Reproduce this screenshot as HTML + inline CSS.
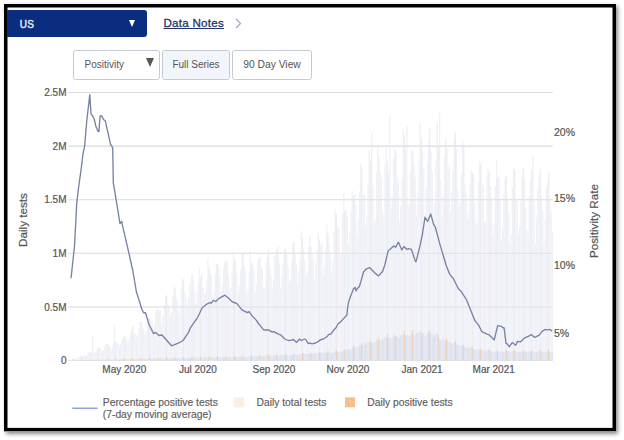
<!DOCTYPE html>
<html><head><meta charset="utf-8">
<style>
html,body{margin:0;padding:0;background:#fff;width:624px;height:440px;overflow:hidden;position:relative;font-family:"Liberation Sans",sans-serif;}
.abs{position:absolute;}
#frame{position:absolute;left:4px;top:4px;width:612px;height:427.5px;box-sizing:border-box;box-shadow:1.5px 2px 4px rgba(0,0,0,0.45);}
#sel{position:absolute;left:7px;top:10px;width:139.5px;height:27px;background:#0b2d80;border-radius:0 3px 3px 0;}
#sel .t{position:absolute;left:12.8px;top:8.6px;font-size:10px;font-weight:normal;-webkit-text-stroke:0.5px #d8e4ff;color:#d8e4ff;line-height:12px;letter-spacing:0.25px}
#sel .tri{position:absolute;left:121.5px;top:10px;width:0;height:0;border-left:3.3px solid transparent;border-right:3.3px solid transparent;border-top:7px solid #fff;}
#dn{position:absolute;left:163.5px;top:16.3px;font-size:11.6px;font-weight:normal;-webkit-text-stroke:0.3px #243669;letter-spacing:0.25px;color:#243669;line-height:13px;text-decoration:underline;text-underline-offset:0.6px;text-decoration-thickness:1px;}
.btn{position:absolute;top:50px;height:30px;box-sizing:border-box;border:1px solid #c6cad3;border-radius:2.5px;font-size:10px;color:#555;line-height:28px;}
.r{right:557.5px;text-align:right;}
.c{transform:translateX(-50%);}
.lab{position:absolute;font-size:10px;color:#555;-webkit-text-stroke:0.2px #555;line-height:12px;white-space:nowrap;}
.leg{position:absolute;font-size:10.3px;color:#5c5c5c;-webkit-text-stroke:0.15px #5c5c5c;line-height:12.2px;white-space:nowrap;}
</style></head><body>
<svg class="abs" style="left:0;top:0" width="624" height="440" viewBox="0 0 624 440">
<g stroke="#dadada" stroke-width="1.1">
<line x1="68.2" y1="92.45" x2="552.7" y2="92.45"/>
<line x1="68.2" y1="146.1" x2="552.7" y2="146.1"/>
<line x1="68.2" y1="199.7" x2="552.7" y2="199.7"/>
<line x1="68.2" y1="253.3" x2="552.7" y2="253.3"/>
<line x1="68.2" y1="307.0" x2="552.7" y2="307.0"/>
<line x1="68.2" y1="360.5" x2="552.7" y2="360.5" stroke="#e4e4e4"/>
</g>
<g fill="#e4e8f4" opacity="0.58"><rect x="69.00" y="360.2" width="1.25" height="0.4"/><rect x="70.21" y="359.7" width="1.25" height="0.9"/><rect x="71.43" y="359.2" width="1.25" height="1.4"/><rect x="72.64" y="358.9" width="1.25" height="1.7"/><rect x="73.85" y="358.7" width="1.25" height="1.9"/><rect x="75.06" y="358.5" width="1.25" height="2.1"/><rect x="76.28" y="358.6" width="1.25" height="2.0"/><rect x="77.49" y="358.2" width="1.25" height="2.4"/><rect x="78.70" y="357.0" width="1.25" height="3.6"/><rect x="79.92" y="356.1" width="1.25" height="4.5"/><rect x="81.13" y="355.5" width="1.25" height="5.1"/><rect x="82.34" y="355.3" width="1.25" height="5.3"/><rect x="83.56" y="355.8" width="1.25" height="4.8"/><rect x="84.77" y="356.3" width="1.25" height="4.3"/><rect x="85.98" y="355.6" width="1.25" height="5.0"/><rect x="87.19" y="353.5" width="1.25" height="7.1"/><rect x="88.41" y="352.0" width="1.25" height="8.6"/><rect x="89.62" y="352.4" width="1.25" height="8.2"/><rect x="90.83" y="351.7" width="1.25" height="8.9"/><rect x="92.05" y="336.0" width="1.25" height="24.6"/><rect x="93.26" y="353.5" width="1.25" height="7.1"/><rect x="94.47" y="352.1" width="1.25" height="8.5"/><rect x="95.69" y="350.5" width="1.25" height="10.1"/><rect x="96.90" y="348.1" width="1.25" height="12.5"/><rect x="98.11" y="347.8" width="1.25" height="12.8"/><rect x="99.33" y="347.7" width="1.25" height="12.9"/><rect x="100.54" y="349.3" width="1.25" height="11.3"/><rect x="101.75" y="351.5" width="1.25" height="9.1"/><rect x="102.96" y="350.5" width="1.25" height="10.1"/><rect x="104.18" y="346.5" width="1.25" height="14.1"/><rect x="105.39" y="343.8" width="1.25" height="16.8"/><rect x="106.60" y="344.3" width="1.25" height="16.3"/><rect x="107.82" y="345.1" width="1.25" height="15.5"/><rect x="109.03" y="345.6" width="1.25" height="15.0"/><rect x="110.24" y="348.7" width="1.25" height="11.9"/><rect x="111.46" y="347.9" width="1.25" height="12.7"/><rect x="112.67" y="343.3" width="1.25" height="17.3"/><rect x="113.88" y="326.0" width="1.25" height="34.6"/><rect x="115.09" y="341.2" width="1.25" height="19.4"/><rect x="116.31" y="342.8" width="1.25" height="17.8"/><rect x="117.52" y="343.5" width="1.25" height="17.1"/><rect x="118.73" y="346.7" width="1.25" height="13.9"/><rect x="119.95" y="344.8" width="1.25" height="15.8"/><rect x="121.16" y="340.1" width="1.25" height="20.5"/><rect x="122.37" y="337.7" width="1.25" height="22.9"/><rect x="123.59" y="336.5" width="1.25" height="24.1"/><rect x="124.80" y="336.6" width="1.25" height="24.0"/><rect x="126.01" y="339.5" width="1.25" height="21.1"/><rect x="127.22" y="342.8" width="1.25" height="17.8"/><rect x="128.44" y="338.8" width="1.25" height="21.8"/><rect x="129.65" y="335.8" width="1.25" height="24.8"/><rect x="130.86" y="331.3" width="1.25" height="29.3"/><rect x="132.08" y="326.0" width="1.25" height="34.6"/><rect x="133.29" y="333.4" width="1.25" height="27.2"/><rect x="134.50" y="333.7" width="1.25" height="26.9"/><rect x="135.72" y="336.5" width="1.25" height="24.1"/><rect x="136.93" y="335.1" width="1.25" height="25.5"/><rect x="138.14" y="327.9" width="1.25" height="32.7"/><rect x="139.35" y="321.3" width="1.25" height="39.3"/><rect x="140.57" y="322.0" width="1.25" height="38.6"/><rect x="141.78" y="325.7" width="1.25" height="34.9"/><rect x="142.99" y="329.3" width="1.25" height="31.3"/><rect x="144.21" y="334.9" width="1.25" height="25.7"/><rect x="145.42" y="331.1" width="1.25" height="29.5"/><rect x="146.63" y="322.8" width="1.25" height="37.8"/><rect x="147.84" y="318.4" width="1.25" height="42.2"/><rect x="149.06" y="318.3" width="1.25" height="42.3"/><rect x="150.27" y="320.3" width="1.25" height="40.3"/><rect x="151.48" y="319.6" width="1.25" height="41.0"/><rect x="152.70" y="328.4" width="1.25" height="32.2"/><rect x="153.91" y="324.0" width="1.25" height="36.6"/><rect x="155.12" y="311.6" width="1.25" height="49.0"/><rect x="156.34" y="306.4" width="1.25" height="54.2"/><rect x="157.55" y="310.1" width="1.25" height="50.5"/><rect x="158.76" y="310.3" width="1.25" height="50.3"/><rect x="159.98" y="310.6" width="1.25" height="50.0"/><rect x="161.19" y="323.7" width="1.25" height="36.9"/><rect x="162.40" y="316.5" width="1.25" height="44.1"/><rect x="163.61" y="305.5" width="1.25" height="55.1"/><rect x="164.83" y="296.7" width="1.25" height="63.9"/><rect x="166.04" y="295.2" width="1.25" height="65.4"/><rect x="167.25" y="302.9" width="1.25" height="57.7"/><rect x="168.47" y="307.7" width="1.25" height="52.9"/><rect x="169.68" y="315.1" width="1.25" height="45.5"/><rect x="170.89" y="311.7" width="1.25" height="48.9"/><rect x="172.11" y="296.0" width="1.25" height="64.6"/><rect x="173.32" y="285.8" width="1.25" height="74.8"/><rect x="174.53" y="288.2" width="1.25" height="72.4"/><rect x="175.74" y="297.1" width="1.25" height="63.5"/><rect x="176.96" y="300.9" width="1.25" height="59.7"/><rect x="178.17" y="314.2" width="1.25" height="46.4"/><rect x="179.38" y="307.6" width="1.25" height="53.0"/><rect x="180.60" y="288.7" width="1.25" height="71.9"/><rect x="181.81" y="278.1" width="1.25" height="82.5"/><rect x="183.02" y="280.3" width="1.25" height="80.3"/><rect x="184.24" y="291.5" width="1.25" height="69.1"/><rect x="185.45" y="297.1" width="1.25" height="63.5"/><rect x="186.66" y="305.8" width="1.25" height="54.8"/><rect x="187.87" y="298.4" width="1.25" height="62.2"/><rect x="189.09" y="285.6" width="1.25" height="75.0"/><rect x="190.30" y="280.9" width="1.25" height="79.7"/><rect x="191.51" y="274.2" width="1.25" height="86.4"/><rect x="192.73" y="280.4" width="1.25" height="80.2"/><rect x="193.94" y="292.3" width="1.25" height="68.3"/><rect x="195.15" y="303.9" width="1.25" height="56.7"/><rect x="196.37" y="292.6" width="1.25" height="68.0"/><rect x="197.58" y="282.8" width="1.25" height="77.8"/><rect x="198.79" y="267.4" width="1.25" height="93.2"/><rect x="200.00" y="277.4" width="1.25" height="83.2"/><rect x="201.22" y="273.2" width="1.25" height="87.4"/><rect x="202.43" y="288.0" width="1.25" height="72.6"/><rect x="203.64" y="294.7" width="1.25" height="65.9"/><rect x="204.86" y="293.9" width="1.25" height="66.7"/><rect x="206.07" y="280.8" width="1.25" height="79.8"/><rect x="207.28" y="258.3" width="1.25" height="102.3"/><rect x="208.50" y="267.1" width="1.25" height="93.5"/><rect x="209.71" y="273.3" width="1.25" height="87.3"/><rect x="210.92" y="276.1" width="1.25" height="84.5"/><rect x="212.13" y="297.1" width="1.25" height="63.5"/><rect x="213.35" y="290.9" width="1.25" height="69.7"/><rect x="214.56" y="274.4" width="1.25" height="86.2"/><rect x="215.77" y="263.6" width="1.25" height="97.0"/><rect x="216.99" y="263.8" width="1.25" height="96.8"/><rect x="218.20" y="266.5" width="1.25" height="94.1"/><rect x="219.41" y="276.2" width="1.25" height="84.4"/><rect x="220.62" y="291.5" width="1.25" height="69.1"/><rect x="221.84" y="284.6" width="1.25" height="76.0"/><rect x="223.05" y="268.3" width="1.25" height="92.3"/><rect x="224.26" y="261.3" width="1.25" height="99.3"/><rect x="225.48" y="262.5" width="1.25" height="98.1"/><rect x="226.69" y="260.9" width="1.25" height="99.7"/><rect x="227.90" y="274.6" width="1.25" height="86.0"/><rect x="229.12" y="289.5" width="1.25" height="71.1"/><rect x="230.33" y="288.1" width="1.25" height="72.5"/><rect x="231.54" y="270.5" width="1.25" height="90.1"/><rect x="232.76" y="251.3" width="1.25" height="109.3"/><rect x="233.97" y="259.0" width="1.25" height="101.6"/><rect x="235.18" y="261.3" width="1.25" height="99.3"/><rect x="236.39" y="274.0" width="1.25" height="86.6"/><rect x="237.61" y="291.9" width="1.25" height="68.7"/><rect x="238.82" y="286.1" width="1.25" height="74.5"/><rect x="240.03" y="269.1" width="1.25" height="91.5"/><rect x="241.25" y="253.3" width="1.25" height="107.3"/><rect x="242.46" y="254.1" width="1.25" height="106.5"/><rect x="243.67" y="265.5" width="1.25" height="95.1"/><rect x="244.89" y="270.5" width="1.25" height="90.1"/><rect x="246.10" y="294.7" width="1.25" height="65.9"/><rect x="247.31" y="289.1" width="1.25" height="71.5"/><rect x="248.52" y="273.0" width="1.25" height="87.6"/><rect x="249.74" y="250.8" width="1.25" height="109.8"/><rect x="250.95" y="263.6" width="1.25" height="97.0"/><rect x="252.16" y="263.0" width="1.25" height="97.6"/><rect x="253.38" y="268.9" width="1.25" height="91.7"/><rect x="254.59" y="292.9" width="1.25" height="67.7"/><rect x="255.80" y="284.8" width="1.25" height="75.8"/><rect x="257.01" y="260.3" width="1.25" height="100.3"/><rect x="258.23" y="258.4" width="1.25" height="102.2"/><rect x="259.44" y="257.4" width="1.25" height="103.2"/><rect x="260.65" y="267.8" width="1.25" height="92.8"/><rect x="261.87" y="269.7" width="1.25" height="90.9"/><rect x="263.08" y="288.6" width="1.25" height="72.0"/><rect x="264.29" y="287.3" width="1.25" height="73.3"/><rect x="265.51" y="262.6" width="1.25" height="98.0"/><rect x="266.72" y="257.0" width="1.25" height="103.6"/><rect x="267.93" y="250.2" width="1.25" height="110.4"/><rect x="269.14" y="265.7" width="1.25" height="94.9"/><rect x="270.36" y="274.5" width="1.25" height="86.1"/><rect x="271.57" y="288.6" width="1.25" height="72.0"/><rect x="272.78" y="279.9" width="1.25" height="80.7"/><rect x="274.00" y="256.1" width="1.25" height="104.5"/><rect x="275.21" y="251.6" width="1.25" height="109.0"/><rect x="276.42" y="249.1" width="1.25" height="111.5"/><rect x="277.64" y="246.0" width="1.25" height="114.6"/><rect x="278.85" y="262.8" width="1.25" height="97.8"/><rect x="280.06" y="288.1" width="1.25" height="72.5"/><rect x="281.27" y="274.9" width="1.25" height="85.7"/><rect x="282.49" y="263.3" width="1.25" height="97.3"/><rect x="283.70" y="250.0" width="1.25" height="110.6"/><rect x="284.91" y="248.3" width="1.25" height="112.3"/><rect x="286.13" y="253.6" width="1.25" height="107.0"/><rect x="287.34" y="266.6" width="1.25" height="94.0"/><rect x="288.55" y="282.1" width="1.25" height="78.5"/><rect x="289.77" y="279.5" width="1.25" height="81.1"/><rect x="290.98" y="262.1" width="1.25" height="98.5"/><rect x="292.19" y="244.2" width="1.25" height="116.4"/><rect x="293.40" y="241.7" width="1.25" height="118.9"/><rect x="294.62" y="252.7" width="1.25" height="107.9"/><rect x="295.83" y="264.1" width="1.25" height="96.5"/><rect x="297.04" y="283.6" width="1.25" height="77.0"/><rect x="298.26" y="270.6" width="1.25" height="90.0"/><rect x="299.47" y="257.9" width="1.25" height="102.7"/><rect x="300.68" y="231.1" width="1.25" height="129.5"/><rect x="301.90" y="237.6" width="1.25" height="123.0"/><rect x="303.11" y="249.6" width="1.25" height="111.0"/><rect x="304.32" y="260.4" width="1.25" height="100.2"/><rect x="305.54" y="276.3" width="1.25" height="84.3"/><rect x="306.75" y="272.5" width="1.25" height="88.1"/><rect x="307.96" y="247.0" width="1.25" height="113.6"/><rect x="309.17" y="236.0" width="1.25" height="124.6"/><rect x="310.39" y="246.3" width="1.25" height="114.3"/><rect x="311.60" y="252.6" width="1.25" height="108.0"/><rect x="312.81" y="259.0" width="1.25" height="101.6"/><rect x="314.03" y="280.3" width="1.25" height="80.3"/><rect x="315.24" y="262.5" width="1.25" height="98.1"/><rect x="316.45" y="249.1" width="1.25" height="111.5"/><rect x="317.67" y="233.0" width="1.25" height="127.6"/><rect x="318.88" y="239.7" width="1.25" height="120.9"/><rect x="320.09" y="244.9" width="1.25" height="115.7"/><rect x="321.30" y="244.1" width="1.25" height="116.5"/><rect x="322.52" y="274.9" width="1.25" height="85.7"/><rect x="323.73" y="265.8" width="1.25" height="94.8"/><rect x="324.94" y="249.0" width="1.25" height="111.6"/><rect x="326.16" y="224.3" width="1.25" height="136.3"/><rect x="327.37" y="233.9" width="1.25" height="126.7"/><rect x="328.58" y="244.4" width="1.25" height="116.2"/><rect x="329.80" y="252.4" width="1.25" height="108.2"/><rect x="331.01" y="273.1" width="1.25" height="87.5"/><rect x="332.22" y="260.3" width="1.25" height="100.3"/><rect x="333.43" y="231.7" width="1.25" height="128.9"/><rect x="334.65" y="209.2" width="1.25" height="151.4"/><rect x="335.86" y="214.3" width="1.25" height="146.3"/><rect x="337.07" y="227.8" width="1.25" height="132.8"/><rect x="338.29" y="228.1" width="1.25" height="132.5"/><rect x="339.50" y="255.8" width="1.25" height="104.8"/><rect x="340.71" y="254.7" width="1.25" height="105.9"/><rect x="341.93" y="213.2" width="1.25" height="147.4"/><rect x="343.14" y="193.9" width="1.25" height="166.7"/><rect x="344.35" y="210.8" width="1.25" height="149.8"/><rect x="345.56" y="210.6" width="1.25" height="150.0"/><rect x="346.78" y="216.3" width="1.25" height="144.3"/><rect x="347.99" y="246.1" width="1.25" height="114.5"/><rect x="349.20" y="232.3" width="1.25" height="128.3"/><rect x="350.42" y="211.0" width="1.25" height="149.6"/><rect x="351.63" y="190.6" width="1.25" height="170.0"/><rect x="352.84" y="195.8" width="1.25" height="164.8"/><rect x="354.06" y="193.9" width="1.25" height="166.7"/><rect x="355.27" y="205.2" width="1.25" height="155.4"/><rect x="356.48" y="236.5" width="1.25" height="124.1"/><rect x="357.69" y="218.5" width="1.25" height="142.1"/><rect x="358.91" y="192.3" width="1.25" height="168.3"/><rect x="360.12" y="163.9" width="1.25" height="196.7"/><rect x="361.33" y="168.5" width="1.25" height="192.1"/><rect x="362.55" y="194.8" width="1.25" height="165.8"/><rect x="363.76" y="194.3" width="1.25" height="166.3"/><rect x="364.97" y="225.6" width="1.25" height="135.0"/><rect x="366.19" y="217.0" width="1.25" height="143.6"/><rect x="367.40" y="184.2" width="1.25" height="176.4"/><rect x="368.61" y="150.9" width="1.25" height="209.7"/><rect x="369.82" y="161.2" width="1.25" height="199.4"/><rect x="371.04" y="133.0" width="1.25" height="227.6"/><rect x="372.25" y="186.1" width="1.25" height="174.5"/><rect x="373.46" y="222.8" width="1.25" height="137.8"/><rect x="374.68" y="219.9" width="1.25" height="140.7"/><rect x="375.89" y="172.8" width="1.25" height="187.8"/><rect x="377.10" y="146.2" width="1.25" height="214.4"/><rect x="378.31" y="158.3" width="1.25" height="202.3"/><rect x="379.53" y="171.5" width="1.25" height="189.1"/><rect x="380.74" y="177.6" width="1.25" height="183.0"/><rect x="381.95" y="211.1" width="1.25" height="149.5"/><rect x="383.17" y="216.8" width="1.25" height="143.8"/><rect x="384.38" y="163.7" width="1.25" height="196.9"/><rect x="385.59" y="146.7" width="1.25" height="213.9"/><rect x="386.81" y="161.2" width="1.25" height="199.4"/><rect x="388.02" y="172.9" width="1.25" height="187.7"/><rect x="389.23" y="115.0" width="1.25" height="245.6"/><rect x="390.44" y="207.9" width="1.25" height="152.7"/><rect x="391.66" y="196.6" width="1.25" height="164.0"/><rect x="392.87" y="158.2" width="1.25" height="202.4"/><rect x="394.08" y="149.7" width="1.25" height="210.9"/><rect x="395.30" y="150.6" width="1.25" height="210.0"/><rect x="396.51" y="176.3" width="1.25" height="184.3"/><rect x="397.72" y="181.7" width="1.25" height="178.9"/><rect x="398.94" y="222.5" width="1.25" height="138.1"/><rect x="400.15" y="206.0" width="1.25" height="154.6"/><rect x="401.36" y="179.6" width="1.25" height="181.0"/><rect x="402.58" y="129.7" width="1.25" height="230.9"/><rect x="403.79" y="136.2" width="1.25" height="224.4"/><rect x="405.00" y="150.6" width="1.25" height="210.0"/><rect x="406.21" y="126.0" width="1.25" height="234.6"/><rect x="407.43" y="204.3" width="1.25" height="156.3"/><rect x="408.64" y="203.6" width="1.25" height="157.0"/><rect x="409.85" y="170.8" width="1.25" height="189.8"/><rect x="411.07" y="149.8" width="1.25" height="210.8"/><rect x="412.28" y="152.7" width="1.25" height="207.9"/><rect x="413.49" y="166.4" width="1.25" height="194.2"/><rect x="414.71" y="177.0" width="1.25" height="183.6"/><rect x="415.92" y="215.4" width="1.25" height="145.2"/><rect x="417.13" y="190.9" width="1.25" height="169.7"/><rect x="418.34" y="159.6" width="1.25" height="201.0"/><rect x="419.56" y="122.6" width="1.25" height="238.0"/><rect x="420.77" y="138.2" width="1.25" height="222.4"/><rect x="421.98" y="151.5" width="1.25" height="209.1"/><rect x="423.20" y="169.4" width="1.25" height="191.2"/><rect x="424.41" y="215.8" width="1.25" height="144.8"/><rect x="425.62" y="188.4" width="1.25" height="172.2"/><rect x="426.84" y="162.1" width="1.25" height="198.5"/><rect x="428.05" y="140.1" width="1.25" height="220.5"/><rect x="429.26" y="128.7" width="1.25" height="231.9"/><rect x="430.47" y="151.8" width="1.25" height="208.8"/><rect x="431.69" y="172.9" width="1.25" height="187.7"/><rect x="432.90" y="217.5" width="1.25" height="143.1"/><rect x="434.11" y="203.8" width="1.25" height="156.8"/><rect x="435.33" y="161.4" width="1.25" height="199.2"/><rect x="436.54" y="122.1" width="1.25" height="238.5"/><rect x="437.75" y="145.2" width="1.25" height="215.4"/><rect x="438.97" y="113.0" width="1.25" height="247.6"/><rect x="440.18" y="179.7" width="1.25" height="180.9"/><rect x="441.39" y="217.1" width="1.25" height="143.5"/><rect x="442.60" y="197.0" width="1.25" height="163.6"/><rect x="443.82" y="155.9" width="1.25" height="204.7"/><rect x="445.03" y="138.4" width="1.25" height="222.2"/><rect x="446.24" y="148.5" width="1.25" height="212.1"/><rect x="447.46" y="170.4" width="1.25" height="190.2"/><rect x="448.67" y="165.0" width="1.25" height="195.6"/><rect x="449.88" y="212.5" width="1.25" height="148.1"/><rect x="451.10" y="191.3" width="1.25" height="169.3"/><rect x="452.31" y="169.5" width="1.25" height="191.1"/><rect x="453.52" y="139.7" width="1.25" height="220.9"/><rect x="454.73" y="132.7" width="1.25" height="227.9"/><rect x="455.95" y="149.2" width="1.25" height="211.4"/><rect x="457.16" y="189.2" width="1.25" height="171.4"/><rect x="458.37" y="207.4" width="1.25" height="153.2"/><rect x="459.59" y="202.0" width="1.25" height="158.6"/><rect x="460.80" y="174.2" width="1.25" height="186.4"/><rect x="462.01" y="139.1" width="1.25" height="221.5"/><rect x="463.23" y="146.7" width="1.25" height="213.9"/><rect x="464.44" y="184.3" width="1.25" height="176.3"/><rect x="465.65" y="192.8" width="1.25" height="167.8"/><rect x="466.86" y="218.5" width="1.25" height="142.1"/><rect x="468.08" y="211.5" width="1.25" height="149.1"/><rect x="469.29" y="183.0" width="1.25" height="177.6"/><rect x="470.50" y="170.2" width="1.25" height="190.4"/><rect x="471.72" y="172.9" width="1.25" height="187.7"/><rect x="472.93" y="174.5" width="1.25" height="186.1"/><rect x="474.14" y="202.7" width="1.25" height="157.9"/><rect x="475.36" y="224.4" width="1.25" height="136.2"/><rect x="476.57" y="222.4" width="1.25" height="138.2"/><rect x="477.78" y="181.8" width="1.25" height="178.8"/><rect x="478.99" y="161.3" width="1.25" height="199.3"/><rect x="480.21" y="163.7" width="1.25" height="196.9"/><rect x="481.42" y="183.7" width="1.25" height="176.9"/><rect x="482.63" y="185.5" width="1.25" height="175.1"/><rect x="483.85" y="221.6" width="1.25" height="139.0"/><rect x="485.06" y="222.2" width="1.25" height="138.4"/><rect x="486.27" y="175.1" width="1.25" height="185.5"/><rect x="487.49" y="168.2" width="1.25" height="192.4"/><rect x="488.70" y="171.8" width="1.25" height="188.8"/><rect x="489.91" y="186.2" width="1.25" height="174.4"/><rect x="491.12" y="197.0" width="1.25" height="163.6"/><rect x="492.34" y="237.0" width="1.25" height="123.6"/><rect x="493.55" y="224.2" width="1.25" height="136.4"/><rect x="494.76" y="186.6" width="1.25" height="174.0"/><rect x="495.98" y="160.7" width="1.25" height="199.9"/><rect x="497.19" y="176.7" width="1.25" height="183.9"/><rect x="498.40" y="178.1" width="1.25" height="182.5"/><rect x="499.62" y="198.1" width="1.25" height="162.5"/><rect x="500.83" y="240.2" width="1.25" height="120.4"/><rect x="502.04" y="228.2" width="1.25" height="132.4"/><rect x="503.25" y="194.5" width="1.25" height="166.1"/><rect x="504.47" y="179.1" width="1.25" height="181.5"/><rect x="505.68" y="175.9" width="1.25" height="184.7"/><rect x="506.89" y="199.5" width="1.25" height="161.1"/><rect x="508.11" y="212.7" width="1.25" height="147.9"/><rect x="509.32" y="243.0" width="1.25" height="117.6"/><rect x="510.53" y="234.0" width="1.25" height="126.6"/><rect x="511.75" y="187.2" width="1.25" height="173.4"/><rect x="512.96" y="167.5" width="1.25" height="193.1"/><rect x="514.17" y="170.2" width="1.25" height="190.4"/><rect x="515.38" y="198.8" width="1.25" height="161.8"/><rect x="516.60" y="201.3" width="1.25" height="159.3"/><rect x="517.81" y="233.6" width="1.25" height="127.0"/><rect x="519.02" y="227.2" width="1.25" height="133.4"/><rect x="520.24" y="201.9" width="1.25" height="158.7"/><rect x="521.45" y="177.2" width="1.25" height="183.4"/><rect x="522.66" y="167.8" width="1.25" height="192.8"/><rect x="523.88" y="179.4" width="1.25" height="181.2"/><rect x="525.09" y="208.0" width="1.25" height="152.6"/><rect x="526.30" y="230.1" width="1.25" height="130.5"/><rect x="527.51" y="232.5" width="1.25" height="128.1"/><rect x="528.73" y="196.9" width="1.25" height="163.7"/><rect x="529.94" y="179.3" width="1.25" height="181.3"/><rect x="531.15" y="169.4" width="1.25" height="191.2"/><rect x="532.37" y="155.0" width="1.25" height="205.6"/><rect x="533.58" y="200.3" width="1.25" height="160.3"/><rect x="534.79" y="243.9" width="1.25" height="116.7"/><rect x="536.01" y="217.2" width="1.25" height="143.4"/><rect x="537.22" y="189.3" width="1.25" height="171.3"/><rect x="538.43" y="176.5" width="1.25" height="184.1"/><rect x="539.64" y="168.9" width="1.25" height="191.7"/><rect x="540.86" y="196.9" width="1.25" height="163.7"/><rect x="542.07" y="210.4" width="1.25" height="150.2"/><rect x="543.28" y="245.3" width="1.25" height="115.3"/><rect x="544.50" y="218.7" width="1.25" height="141.9"/><rect x="545.71" y="187.1" width="1.25" height="173.5"/><rect x="546.92" y="181.8" width="1.25" height="178.8"/><rect x="548.13" y="172.2" width="1.25" height="188.4"/><rect x="549.35" y="197.3" width="1.25" height="163.3"/><rect x="550.56" y="211.4" width="1.25" height="149.2"/><rect x="551.77" y="232.8" width="1.25" height="127.8"/></g><g fill="#f0d6c2" opacity="0.28"><rect x="72.64" y="358.9" width="0.8" height="1.7"/><rect x="81.13" y="355.5" width="0.8" height="5.1"/><rect x="89.62" y="352.4" width="0.8" height="8.2"/><rect x="98.11" y="347.8" width="0.8" height="12.8"/><rect x="106.60" y="344.3" width="0.8" height="16.3"/><rect x="115.09" y="341.2" width="0.8" height="19.4"/><rect x="123.59" y="336.5" width="0.8" height="24.1"/><rect x="132.08" y="326.0" width="0.8" height="34.6"/><rect x="140.57" y="322.0" width="0.8" height="38.6"/><rect x="149.06" y="318.3" width="0.8" height="42.3"/><rect x="157.55" y="310.1" width="0.8" height="50.5"/><rect x="166.04" y="295.2" width="0.8" height="65.4"/><rect x="174.53" y="288.2" width="0.8" height="72.4"/><rect x="183.02" y="280.3" width="0.8" height="80.3"/><rect x="191.51" y="274.2" width="0.8" height="86.4"/><rect x="200.00" y="277.4" width="0.8" height="83.2"/><rect x="208.50" y="267.1" width="0.8" height="93.5"/><rect x="216.99" y="263.8" width="0.8" height="96.8"/><rect x="225.48" y="262.5" width="0.8" height="98.1"/><rect x="233.97" y="259.0" width="0.8" height="101.6"/><rect x="242.46" y="254.1" width="0.8" height="106.5"/><rect x="250.95" y="263.6" width="0.8" height="97.0"/><rect x="259.44" y="257.4" width="0.8" height="103.2"/><rect x="267.93" y="250.2" width="0.8" height="110.4"/><rect x="276.42" y="249.1" width="0.8" height="111.5"/><rect x="284.91" y="248.3" width="0.8" height="112.3"/><rect x="293.40" y="241.7" width="0.8" height="118.9"/><rect x="301.90" y="237.6" width="0.8" height="123.0"/><rect x="310.39" y="246.3" width="0.8" height="114.3"/><rect x="318.88" y="239.7" width="0.8" height="120.9"/><rect x="327.37" y="233.9" width="0.8" height="126.7"/><rect x="335.86" y="214.3" width="0.8" height="146.3"/><rect x="344.35" y="210.8" width="0.8" height="149.8"/><rect x="352.84" y="195.8" width="0.8" height="164.8"/><rect x="361.33" y="168.5" width="0.8" height="192.1"/><rect x="369.82" y="161.2" width="0.8" height="199.4"/><rect x="378.31" y="158.3" width="0.8" height="202.3"/><rect x="386.81" y="161.2" width="0.8" height="199.4"/><rect x="395.30" y="150.6" width="0.8" height="210.0"/><rect x="403.79" y="136.2" width="0.8" height="224.4"/><rect x="412.28" y="152.7" width="0.8" height="207.9"/><rect x="420.77" y="138.2" width="0.8" height="222.4"/><rect x="429.26" y="128.7" width="0.8" height="231.9"/><rect x="437.75" y="145.2" width="0.8" height="215.4"/><rect x="446.24" y="148.5" width="0.8" height="212.1"/><rect x="454.73" y="132.7" width="0.8" height="227.9"/><rect x="463.23" y="146.7" width="0.8" height="213.9"/><rect x="471.72" y="172.9" width="0.8" height="187.7"/><rect x="480.21" y="163.7" width="0.8" height="196.9"/><rect x="488.70" y="171.8" width="0.8" height="188.8"/><rect x="497.19" y="176.7" width="0.8" height="183.9"/><rect x="505.68" y="175.9" width="0.8" height="184.7"/><rect x="514.17" y="170.2" width="0.8" height="190.4"/><rect x="522.66" y="167.8" width="0.8" height="192.8"/><rect x="531.15" y="169.4" width="0.8" height="191.2"/><rect x="539.64" y="168.9" width="0.8" height="191.7"/><rect x="548.13" y="172.2" width="0.8" height="188.4"/></g><g fill="#dadfed" opacity="0.9"><rect x="82.34" y="360.3" width="0.95" height="0.3"/><rect x="83.56" y="360.3" width="0.95" height="0.3"/><rect x="84.77" y="360.2" width="0.95" height="0.4"/><rect x="85.98" y="360.2" width="0.95" height="0.4"/><rect x="87.19" y="360.2" width="0.95" height="0.4"/><rect x="88.41" y="360.1" width="0.95" height="0.5"/><rect x="89.62" y="360.1" width="0.95" height="0.5"/><rect x="90.83" y="360.1" width="0.95" height="0.5"/><rect x="92.05" y="360.0" width="0.95" height="0.6"/><rect x="93.26" y="360.0" width="0.95" height="0.6"/><rect x="94.47" y="360.0" width="0.95" height="0.6"/><rect x="95.69" y="359.9" width="0.95" height="0.7"/><rect x="96.90" y="359.9" width="0.95" height="0.7"/><rect x="98.11" y="359.9" width="0.95" height="0.7"/><rect x="99.33" y="359.9" width="0.95" height="0.7"/><rect x="100.54" y="359.8" width="0.95" height="0.8"/><rect x="101.75" y="359.8" width="0.95" height="0.8"/><rect x="102.96" y="359.8" width="0.95" height="0.8"/><rect x="104.18" y="359.7" width="0.95" height="0.9"/><rect x="105.39" y="359.7" width="0.95" height="0.9"/><rect x="106.60" y="359.6" width="0.95" height="1.0"/><rect x="107.82" y="359.6" width="0.95" height="1.0"/><rect x="109.03" y="359.6" width="0.95" height="1.0"/><rect x="110.24" y="359.6" width="0.95" height="1.0"/><rect x="111.46" y="359.6" width="0.95" height="1.0"/><rect x="112.67" y="359.4" width="0.95" height="1.2"/><rect x="113.88" y="359.5" width="0.95" height="1.1"/><rect x="115.09" y="359.4" width="0.95" height="1.2"/><rect x="116.31" y="359.5" width="0.95" height="1.1"/><rect x="117.52" y="359.5" width="0.95" height="1.1"/><rect x="118.73" y="359.4" width="0.95" height="1.2"/><rect x="119.95" y="359.4" width="0.95" height="1.2"/><rect x="121.16" y="359.3" width="0.95" height="1.3"/><rect x="122.37" y="359.3" width="0.95" height="1.3"/><rect x="123.59" y="359.2" width="0.95" height="1.4"/><rect x="124.80" y="359.1" width="0.95" height="1.5"/><rect x="126.01" y="359.2" width="0.95" height="1.4"/><rect x="127.22" y="359.2" width="0.95" height="1.4"/><rect x="128.44" y="359.3" width="0.95" height="1.3"/><rect x="129.65" y="359.2" width="0.95" height="1.4"/><rect x="130.86" y="359.1" width="0.95" height="1.5"/><rect x="132.08" y="359.1" width="0.95" height="1.5"/><rect x="133.29" y="359.1" width="0.95" height="1.5"/><rect x="134.50" y="359.0" width="0.95" height="1.6"/><rect x="135.72" y="359.0" width="0.95" height="1.6"/><rect x="136.93" y="359.0" width="0.95" height="1.6"/><rect x="138.14" y="359.0" width="0.95" height="1.6"/><rect x="139.35" y="358.7" width="0.95" height="1.9"/><rect x="140.57" y="358.7" width="0.95" height="1.9"/><rect x="141.78" y="358.8" width="0.95" height="1.8"/><rect x="142.99" y="358.8" width="0.95" height="1.8"/><rect x="144.21" y="359.0" width="0.95" height="1.6"/><rect x="145.42" y="358.9" width="0.95" height="1.7"/><rect x="146.63" y="358.8" width="0.95" height="1.8"/><rect x="147.84" y="358.8" width="0.95" height="1.8"/><rect x="149.06" y="358.7" width="0.95" height="1.9"/><rect x="150.27" y="358.5" width="0.95" height="2.1"/><rect x="151.48" y="358.7" width="0.95" height="1.9"/><rect x="152.70" y="358.7" width="0.95" height="1.9"/><rect x="153.91" y="358.7" width="0.95" height="1.9"/><rect x="155.12" y="358.3" width="0.95" height="2.3"/><rect x="156.34" y="358.5" width="0.95" height="2.1"/><rect x="157.55" y="358.6" width="0.95" height="2.0"/><rect x="158.76" y="358.5" width="0.95" height="2.1"/><rect x="159.98" y="358.5" width="0.95" height="2.1"/><rect x="161.19" y="358.4" width="0.95" height="2.2"/><rect x="162.40" y="358.6" width="0.95" height="2.0"/><rect x="163.61" y="358.5" width="0.95" height="2.1"/><rect x="164.83" y="358.1" width="0.95" height="2.5"/><rect x="166.04" y="358.2" width="0.95" height="2.4"/><rect x="167.25" y="358.3" width="0.95" height="2.3"/><rect x="168.47" y="358.2" width="0.95" height="2.4"/><rect x="169.68" y="358.2" width="0.95" height="2.4"/><rect x="170.89" y="358.4" width="0.95" height="2.2"/><rect x="172.11" y="358.0" width="0.95" height="2.6"/><rect x="173.32" y="358.0" width="0.95" height="2.6"/><rect x="174.53" y="358.0" width="0.95" height="2.6"/><rect x="175.74" y="358.1" width="0.95" height="2.5"/><rect x="176.96" y="358.3" width="0.95" height="2.3"/><rect x="178.17" y="358.3" width="0.95" height="2.3"/><rect x="179.38" y="358.1" width="0.95" height="2.5"/><rect x="180.60" y="358.0" width="0.95" height="2.6"/><rect x="181.81" y="357.7" width="0.95" height="2.9"/><rect x="183.02" y="358.0" width="0.95" height="2.6"/><rect x="184.24" y="358.1" width="0.95" height="2.5"/><rect x="185.45" y="358.1" width="0.95" height="2.5"/><rect x="186.66" y="357.9" width="0.95" height="2.7"/><rect x="187.87" y="358.0" width="0.95" height="2.6"/><rect x="189.09" y="357.7" width="0.95" height="2.9"/><rect x="190.30" y="357.7" width="0.95" height="2.9"/><rect x="191.51" y="357.6" width="0.95" height="3.0"/><rect x="192.73" y="357.8" width="0.95" height="2.8"/><rect x="193.94" y="357.7" width="0.95" height="2.9"/><rect x="195.15" y="357.8" width="0.95" height="2.8"/><rect x="196.37" y="357.8" width="0.95" height="2.8"/><rect x="197.58" y="357.5" width="0.95" height="3.1"/><rect x="198.79" y="357.8" width="0.95" height="2.8"/><rect x="200.00" y="357.8" width="0.95" height="2.8"/><rect x="201.22" y="357.5" width="0.95" height="3.1"/><rect x="202.43" y="357.5" width="0.95" height="3.1"/><rect x="203.64" y="357.6" width="0.95" height="3.0"/><rect x="204.86" y="357.7" width="0.95" height="2.9"/><rect x="206.07" y="357.8" width="0.95" height="2.8"/><rect x="207.28" y="357.3" width="0.95" height="3.3"/><rect x="208.50" y="357.2" width="0.95" height="3.4"/><rect x="209.71" y="357.3" width="0.95" height="3.3"/><rect x="210.92" y="357.6" width="0.95" height="3.0"/><rect x="212.13" y="357.7" width="0.95" height="2.9"/><rect x="213.35" y="357.5" width="0.95" height="3.1"/><rect x="214.56" y="357.5" width="0.95" height="3.1"/><rect x="215.77" y="357.1" width="0.95" height="3.5"/><rect x="216.99" y="357.3" width="0.95" height="3.3"/><rect x="218.20" y="357.1" width="0.95" height="3.5"/><rect x="219.41" y="357.1" width="0.95" height="3.5"/><rect x="220.62" y="357.4" width="0.95" height="3.2"/><rect x="221.84" y="357.6" width="0.95" height="3.0"/><rect x="223.05" y="357.4" width="0.95" height="3.2"/><rect x="224.26" y="357.0" width="0.95" height="3.6"/><rect x="225.48" y="357.2" width="0.95" height="3.4"/><rect x="226.69" y="357.1" width="0.95" height="3.5"/><rect x="227.90" y="357.2" width="0.95" height="3.4"/><rect x="229.12" y="357.1" width="0.95" height="3.5"/><rect x="230.33" y="357.2" width="0.95" height="3.4"/><rect x="231.54" y="357.2" width="0.95" height="3.4"/><rect x="232.76" y="356.9" width="0.95" height="3.7"/><rect x="233.97" y="356.8" width="0.95" height="3.8"/><rect x="235.18" y="357.0" width="0.95" height="3.6"/><rect x="236.39" y="357.0" width="0.95" height="3.6"/><rect x="237.61" y="357.0" width="0.95" height="3.6"/><rect x="238.82" y="357.0" width="0.95" height="3.6"/><rect x="240.03" y="356.7" width="0.95" height="3.9"/><rect x="241.25" y="356.6" width="0.95" height="4.0"/><rect x="242.46" y="356.9" width="0.95" height="3.7"/><rect x="243.67" y="356.6" width="0.95" height="4.0"/><rect x="244.89" y="357.0" width="0.95" height="3.6"/><rect x="246.10" y="357.0" width="0.95" height="3.6"/><rect x="247.31" y="357.1" width="0.95" height="3.5"/><rect x="248.52" y="356.7" width="0.95" height="3.9"/><rect x="249.74" y="356.4" width="0.95" height="4.2"/><rect x="250.95" y="356.5" width="0.95" height="4.1"/><rect x="252.16" y="356.8" width="0.95" height="3.8"/><rect x="253.38" y="356.3" width="0.95" height="4.3"/><rect x="254.59" y="356.4" width="0.95" height="4.2"/><rect x="255.80" y="356.6" width="0.95" height="4.0"/><rect x="257.01" y="356.1" width="0.95" height="4.5"/><rect x="258.23" y="356.3" width="0.95" height="4.3"/><rect x="259.44" y="356.3" width="0.95" height="4.3"/><rect x="260.65" y="356.4" width="0.95" height="4.2"/><rect x="261.87" y="356.5" width="0.95" height="4.1"/><rect x="263.08" y="356.3" width="0.95" height="4.3"/><rect x="264.29" y="356.3" width="0.95" height="4.3"/><rect x="265.51" y="356.0" width="0.95" height="4.6"/><rect x="266.72" y="355.5" width="0.95" height="5.1"/><rect x="267.93" y="355.4" width="0.95" height="5.2"/><rect x="269.14" y="356.0" width="0.95" height="4.6"/><rect x="270.36" y="355.7" width="0.95" height="4.9"/><rect x="271.57" y="356.2" width="0.95" height="4.4"/><rect x="272.78" y="355.5" width="0.95" height="5.1"/><rect x="274.00" y="355.7" width="0.95" height="4.9"/><rect x="275.21" y="355.1" width="0.95" height="5.5"/><rect x="276.42" y="355.2" width="0.95" height="5.4"/><rect x="277.64" y="355.8" width="0.95" height="4.8"/><rect x="278.85" y="355.5" width="0.95" height="5.1"/><rect x="280.06" y="355.2" width="0.95" height="5.4"/><rect x="281.27" y="355.2" width="0.95" height="5.4"/><rect x="282.49" y="354.9" width="0.95" height="5.7"/><rect x="283.70" y="354.8" width="0.95" height="5.8"/><rect x="284.91" y="355.1" width="0.95" height="5.5"/><rect x="286.13" y="354.6" width="0.95" height="6.0"/><rect x="287.34" y="355.4" width="0.95" height="5.2"/><rect x="288.55" y="355.4" width="0.95" height="5.2"/><rect x="289.77" y="355.4" width="0.95" height="5.2"/><rect x="290.98" y="355.1" width="0.95" height="5.5"/><rect x="292.19" y="354.8" width="0.95" height="5.8"/><rect x="293.40" y="354.7" width="0.95" height="5.9"/><rect x="294.62" y="354.9" width="0.95" height="5.7"/><rect x="295.83" y="355.1" width="0.95" height="5.5"/><rect x="297.04" y="355.2" width="0.95" height="5.4"/><rect x="298.26" y="354.6" width="0.95" height="6.0"/><rect x="299.47" y="354.5" width="0.95" height="6.1"/><rect x="300.68" y="354.5" width="0.95" height="6.1"/><rect x="301.90" y="354.1" width="0.95" height="6.5"/><rect x="303.11" y="353.8" width="0.95" height="6.8"/><rect x="304.32" y="354.2" width="0.95" height="6.4"/><rect x="305.54" y="353.8" width="0.95" height="6.8"/><rect x="306.75" y="353.8" width="0.95" height="6.8"/><rect x="307.96" y="353.7" width="0.95" height="6.9"/><rect x="309.17" y="353.8" width="0.95" height="6.8"/><rect x="310.39" y="354.0" width="0.95" height="6.6"/><rect x="311.60" y="353.4" width="0.95" height="7.2"/><rect x="312.81" y="354.0" width="0.95" height="6.6"/><rect x="314.03" y="353.4" width="0.95" height="7.2"/><rect x="315.24" y="353.3" width="0.95" height="7.3"/><rect x="316.45" y="353.6" width="0.95" height="7.0"/><rect x="317.67" y="353.1" width="0.95" height="7.5"/><rect x="318.88" y="353.1" width="0.95" height="7.5"/><rect x="320.09" y="352.5" width="0.95" height="8.1"/><rect x="321.30" y="352.9" width="0.95" height="7.7"/><rect x="322.52" y="352.7" width="0.95" height="7.9"/><rect x="323.73" y="353.2" width="0.95" height="7.4"/><rect x="324.94" y="352.9" width="0.95" height="7.7"/><rect x="326.16" y="352.4" width="0.95" height="8.2"/><rect x="327.37" y="352.5" width="0.95" height="8.1"/><rect x="328.58" y="352.8" width="0.95" height="7.8"/><rect x="329.80" y="352.7" width="0.95" height="7.9"/><rect x="331.01" y="353.3" width="0.95" height="7.3"/><rect x="332.22" y="352.9" width="0.95" height="7.7"/><rect x="333.43" y="352.1" width="0.95" height="8.5"/><rect x="334.65" y="351.6" width="0.95" height="9.0"/><rect x="335.86" y="351.3" width="0.95" height="9.3"/><rect x="337.07" y="352.1" width="0.95" height="8.5"/><rect x="338.29" y="352.3" width="0.95" height="8.3"/><rect x="339.50" y="351.9" width="0.95" height="8.7"/><rect x="340.71" y="351.6" width="0.95" height="9.0"/><rect x="341.93" y="351.3" width="0.95" height="9.3"/><rect x="343.14" y="350.7" width="0.95" height="9.9"/><rect x="344.35" y="350.9" width="0.95" height="9.7"/><rect x="345.56" y="350.0" width="0.95" height="10.6"/><rect x="346.78" y="349.7" width="0.95" height="10.9"/><rect x="347.99" y="349.5" width="0.95" height="11.1"/><rect x="349.20" y="349.2" width="0.95" height="11.4"/><rect x="350.42" y="349.7" width="0.95" height="10.9"/><rect x="351.63" y="348.4" width="0.95" height="12.2"/><rect x="352.84" y="347.1" width="0.95" height="13.5"/><rect x="354.06" y="347.1" width="0.95" height="13.5"/><rect x="355.27" y="346.7" width="0.95" height="13.9"/><rect x="356.48" y="348.2" width="0.95" height="12.4"/><rect x="357.69" y="345.9" width="0.95" height="14.7"/><rect x="358.91" y="345.6" width="0.95" height="15.0"/><rect x="360.12" y="345.8" width="0.95" height="14.8"/><rect x="361.33" y="345.0" width="0.95" height="15.6"/><rect x="362.55" y="345.0" width="0.95" height="15.6"/><rect x="363.76" y="344.7" width="0.95" height="15.9"/><rect x="364.97" y="342.9" width="0.95" height="17.7"/><rect x="366.19" y="343.8" width="0.95" height="16.8"/><rect x="367.40" y="342.2" width="0.95" height="18.4"/><rect x="368.61" y="341.5" width="0.95" height="19.1"/><rect x="369.82" y="342.9" width="0.95" height="17.7"/><rect x="371.04" y="342.6" width="0.95" height="18.0"/><rect x="372.25" y="342.2" width="0.95" height="18.4"/><rect x="373.46" y="343.4" width="0.95" height="17.2"/><rect x="374.68" y="342.3" width="0.95" height="18.3"/><rect x="375.89" y="339.9" width="0.95" height="20.7"/><rect x="377.10" y="340.4" width="0.95" height="20.2"/><rect x="378.31" y="339.8" width="0.95" height="20.8"/><rect x="379.53" y="340.8" width="0.95" height="19.8"/><rect x="380.74" y="340.4" width="0.95" height="20.2"/><rect x="381.95" y="338.4" width="0.95" height="22.2"/><rect x="383.17" y="339.8" width="0.95" height="20.8"/><rect x="384.38" y="336.7" width="0.95" height="23.9"/><rect x="385.59" y="338.5" width="0.95" height="22.1"/><rect x="386.81" y="336.1" width="0.95" height="24.5"/><rect x="388.02" y="337.4" width="0.95" height="23.2"/><rect x="389.23" y="337.7" width="0.95" height="22.9"/><rect x="390.44" y="339.2" width="0.95" height="21.4"/><rect x="391.66" y="337.5" width="0.95" height="23.1"/><rect x="392.87" y="335.8" width="0.95" height="24.8"/><rect x="394.08" y="334.7" width="0.95" height="25.9"/><rect x="395.30" y="337.8" width="0.95" height="22.8"/><rect x="396.51" y="336.4" width="0.95" height="24.2"/><rect x="397.72" y="337.1" width="0.95" height="23.5"/><rect x="398.94" y="337.7" width="0.95" height="22.9"/><rect x="400.15" y="335.3" width="0.95" height="25.3"/><rect x="401.36" y="334.8" width="0.95" height="25.8"/><rect x="402.58" y="336.0" width="0.95" height="24.6"/><rect x="403.79" y="333.6" width="0.95" height="27.0"/><rect x="405.00" y="335.4" width="0.95" height="25.2"/><rect x="406.21" y="335.6" width="0.95" height="25.0"/><rect x="407.43" y="335.2" width="0.95" height="25.4"/><rect x="408.64" y="335.6" width="0.95" height="25.0"/><rect x="409.85" y="336.3" width="0.95" height="24.3"/><rect x="411.07" y="332.5" width="0.95" height="28.1"/><rect x="412.28" y="332.1" width="0.95" height="28.5"/><rect x="413.49" y="335.0" width="0.95" height="25.6"/><rect x="414.71" y="335.5" width="0.95" height="25.1"/><rect x="415.92" y="333.3" width="0.95" height="27.3"/><rect x="417.13" y="333.1" width="0.95" height="27.5"/><rect x="418.34" y="331.8" width="0.95" height="28.8"/><rect x="419.56" y="332.3" width="0.95" height="28.3"/><rect x="420.77" y="334.7" width="0.95" height="25.9"/><rect x="421.98" y="333.2" width="0.95" height="27.4"/><rect x="423.20" y="332.8" width="0.95" height="27.8"/><rect x="424.41" y="336.2" width="0.95" height="24.4"/><rect x="425.62" y="335.2" width="0.95" height="25.4"/><rect x="426.84" y="333.6" width="0.95" height="27.0"/><rect x="428.05" y="331.2" width="0.95" height="29.4"/><rect x="429.26" y="332.9" width="0.95" height="27.7"/><rect x="430.47" y="333.5" width="0.95" height="27.1"/><rect x="431.69" y="334.2" width="0.95" height="26.4"/><rect x="432.90" y="336.7" width="0.95" height="23.9"/><rect x="434.11" y="334.1" width="0.95" height="26.5"/><rect x="435.33" y="336.4" width="0.95" height="24.2"/><rect x="436.54" y="333.1" width="0.95" height="27.5"/><rect x="437.75" y="337.6" width="0.95" height="23.0"/><rect x="438.97" y="338.7" width="0.95" height="21.9"/><rect x="440.18" y="339.6" width="0.95" height="21.0"/><rect x="441.39" y="340.3" width="0.95" height="20.3"/><rect x="442.60" y="338.4" width="0.95" height="22.2"/><rect x="443.82" y="339.7" width="0.95" height="20.9"/><rect x="445.03" y="339.5" width="0.95" height="21.1"/><rect x="446.24" y="340.7" width="0.95" height="19.9"/><rect x="447.46" y="341.7" width="0.95" height="18.9"/><rect x="448.67" y="342.5" width="0.95" height="18.1"/><rect x="449.88" y="342.2" width="0.95" height="18.4"/><rect x="451.10" y="343.5" width="0.95" height="17.1"/><rect x="452.31" y="343.5" width="0.95" height="17.1"/><rect x="453.52" y="342.9" width="0.95" height="17.7"/><rect x="454.73" y="342.2" width="0.95" height="18.4"/><rect x="455.95" y="345.0" width="0.95" height="15.6"/><rect x="457.16" y="344.3" width="0.95" height="16.3"/><rect x="458.37" y="345.6" width="0.95" height="15.0"/><rect x="459.59" y="347.0" width="0.95" height="13.6"/><rect x="460.80" y="344.9" width="0.95" height="15.7"/><rect x="462.01" y="345.0" width="0.95" height="15.6"/><rect x="463.23" y="346.9" width="0.95" height="13.7"/><rect x="464.44" y="347.9" width="0.95" height="12.7"/><rect x="465.65" y="347.4" width="0.95" height="13.2"/><rect x="466.86" y="347.9" width="0.95" height="12.7"/><rect x="468.08" y="347.9" width="0.95" height="12.7"/><rect x="469.29" y="348.1" width="0.95" height="12.5"/><rect x="470.50" y="347.7" width="0.95" height="12.9"/><rect x="471.72" y="347.6" width="0.95" height="13.0"/><rect x="472.93" y="349.0" width="0.95" height="11.6"/><rect x="474.14" y="349.6" width="0.95" height="11.0"/><rect x="475.36" y="349.2" width="0.95" height="11.4"/><rect x="476.57" y="350.4" width="0.95" height="10.2"/><rect x="477.78" y="349.2" width="0.95" height="11.4"/><rect x="478.99" y="349.8" width="0.95" height="10.8"/><rect x="480.21" y="350.4" width="0.95" height="10.2"/><rect x="481.42" y="350.0" width="0.95" height="10.6"/><rect x="482.63" y="349.9" width="0.95" height="10.7"/><rect x="483.85" y="350.7" width="0.95" height="9.9"/><rect x="485.06" y="351.2" width="0.95" height="9.4"/><rect x="486.27" y="350.2" width="0.95" height="10.4"/><rect x="487.49" y="351.3" width="0.95" height="9.3"/><rect x="488.70" y="350.5" width="0.95" height="10.1"/><rect x="489.91" y="351.4" width="0.95" height="9.2"/><rect x="491.12" y="350.7" width="0.95" height="9.9"/><rect x="492.34" y="352.5" width="0.95" height="8.1"/><rect x="493.55" y="351.9" width="0.95" height="8.7"/><rect x="494.76" y="351.9" width="0.95" height="8.7"/><rect x="495.98" y="350.9" width="0.95" height="9.7"/><rect x="497.19" y="351.8" width="0.95" height="8.8"/><rect x="498.40" y="351.7" width="0.95" height="8.9"/><rect x="499.62" y="351.9" width="0.95" height="8.7"/><rect x="500.83" y="351.6" width="0.95" height="9.0"/><rect x="502.04" y="351.2" width="0.95" height="9.4"/><rect x="503.25" y="352.0" width="0.95" height="8.6"/><rect x="504.47" y="351.5" width="0.95" height="9.1"/><rect x="505.68" y="350.7" width="0.95" height="9.9"/><rect x="506.89" y="351.7" width="0.95" height="8.9"/><rect x="508.11" y="351.0" width="0.95" height="9.6"/><rect x="509.32" y="352.6" width="0.95" height="8.0"/><rect x="510.53" y="352.0" width="0.95" height="8.6"/><rect x="511.75" y="350.9" width="0.95" height="9.7"/><rect x="512.96" y="350.5" width="0.95" height="10.1"/><rect x="514.17" y="351.5" width="0.95" height="9.1"/><rect x="515.38" y="350.9" width="0.95" height="9.7"/><rect x="516.60" y="352.2" width="0.95" height="8.4"/><rect x="517.81" y="352.1" width="0.95" height="8.5"/><rect x="519.02" y="352.1" width="0.95" height="8.5"/><rect x="520.24" y="352.3" width="0.95" height="8.3"/><rect x="521.45" y="351.6" width="0.95" height="9.0"/><rect x="522.66" y="351.8" width="0.95" height="8.8"/><rect x="523.88" y="351.8" width="0.95" height="8.8"/><rect x="525.09" y="351.2" width="0.95" height="9.4"/><rect x="526.30" y="352.0" width="0.95" height="8.6"/><rect x="527.51" y="351.9" width="0.95" height="8.7"/><rect x="528.73" y="351.0" width="0.95" height="9.6"/><rect x="529.94" y="351.6" width="0.95" height="9.0"/><rect x="531.15" y="352.0" width="0.95" height="8.6"/><rect x="532.37" y="351.1" width="0.95" height="9.5"/><rect x="533.58" y="352.2" width="0.95" height="8.4"/><rect x="534.79" y="352.6" width="0.95" height="8.0"/><rect x="536.01" y="352.1" width="0.95" height="8.5"/><rect x="537.22" y="350.9" width="0.95" height="9.7"/><rect x="538.43" y="351.7" width="0.95" height="8.9"/><rect x="539.64" y="351.1" width="0.95" height="9.5"/><rect x="540.86" y="351.2" width="0.95" height="9.4"/><rect x="542.07" y="352.0" width="0.95" height="8.6"/><rect x="543.28" y="351.7" width="0.95" height="8.9"/><rect x="544.50" y="351.6" width="0.95" height="9.0"/><rect x="545.71" y="352.1" width="0.95" height="8.5"/><rect x="546.92" y="351.4" width="0.95" height="9.2"/><rect x="548.13" y="350.6" width="0.95" height="10.0"/><rect x="549.35" y="351.9" width="0.95" height="8.7"/><rect x="550.56" y="351.7" width="0.95" height="8.9"/><rect x="551.77" y="352.3" width="0.95" height="8.3"/></g><g fill="#efc9ab" opacity="0.85"><rect x="72.64" y="359.5" width="0.9" height="1.1"/><rect x="81.13" y="359.3" width="0.9" height="1.3"/><rect x="89.62" y="359.1" width="0.9" height="1.5"/><rect x="98.11" y="358.9" width="0.9" height="1.7"/><rect x="106.60" y="358.6" width="0.9" height="2.0"/><rect x="115.09" y="358.4" width="0.9" height="2.2"/><rect x="123.59" y="358.1" width="0.9" height="2.5"/><rect x="132.08" y="358.0" width="0.9" height="2.6"/><rect x="140.57" y="357.6" width="0.9" height="3.0"/><rect x="149.06" y="357.6" width="0.9" height="3.0"/><rect x="157.55" y="357.5" width="0.9" height="3.1"/><rect x="166.04" y="357.1" width="0.9" height="3.5"/><rect x="174.53" y="356.9" width="0.9" height="3.7"/><rect x="183.02" y="356.8" width="0.9" height="3.8"/><rect x="191.51" y="356.5" width="0.9" height="4.1"/><rect x="200.00" y="356.7" width="0.9" height="3.9"/><rect x="208.50" y="356.1" width="0.9" height="4.5"/><rect x="216.99" y="356.2" width="0.9" height="4.4"/><rect x="225.48" y="356.0" width="0.9" height="4.6"/><rect x="233.97" y="355.6" width="0.9" height="5.0"/><rect x="242.46" y="355.7" width="0.9" height="4.9"/><rect x="250.95" y="355.3" width="0.9" height="5.3"/><rect x="259.44" y="355.1" width="0.9" height="5.5"/><rect x="267.93" y="354.2" width="0.9" height="6.4"/><rect x="276.42" y="354.0" width="0.9" height="6.6"/><rect x="284.91" y="353.9" width="0.9" height="6.7"/><rect x="293.40" y="353.4" width="0.9" height="7.2"/><rect x="301.90" y="352.8" width="0.9" height="7.8"/><rect x="310.39" y="352.7" width="0.9" height="7.9"/><rect x="318.88" y="351.7" width="0.9" height="8.9"/><rect x="327.37" y="351.1" width="0.9" height="9.5"/><rect x="335.86" y="349.8" width="0.9" height="10.8"/><rect x="344.35" y="349.4" width="0.9" height="11.2"/><rect x="352.84" y="345.5" width="0.9" height="15.1"/><rect x="361.33" y="343.2" width="0.9" height="17.4"/><rect x="369.82" y="341.1" width="0.9" height="19.5"/><rect x="378.31" y="337.7" width="0.9" height="22.9"/><rect x="386.81" y="333.9" width="0.9" height="26.7"/><rect x="395.30" y="335.7" width="0.9" height="24.9"/><rect x="403.79" y="331.2" width="0.9" height="29.4"/><rect x="412.28" y="329.6" width="0.9" height="31.0"/><rect x="420.77" y="332.5" width="0.9" height="28.1"/><rect x="429.26" y="330.6" width="0.9" height="30.0"/><rect x="437.75" y="335.4" width="0.9" height="25.2"/><rect x="446.24" y="338.7" width="0.9" height="21.9"/><rect x="454.73" y="340.2" width="0.9" height="20.4"/><rect x="463.23" y="345.2" width="0.9" height="15.4"/><rect x="471.72" y="346.0" width="0.9" height="14.6"/><rect x="480.21" y="348.9" width="0.9" height="11.7"/><rect x="488.70" y="349.0" width="0.9" height="11.6"/><rect x="497.19" y="350.4" width="0.9" height="10.2"/><rect x="505.68" y="349.2" width="0.9" height="11.4"/><rect x="514.17" y="350.1" width="0.9" height="10.5"/><rect x="522.66" y="350.4" width="0.9" height="10.2"/><rect x="531.15" y="350.5" width="0.9" height="10.1"/><rect x="539.64" y="349.6" width="0.9" height="11.0"/><rect x="548.13" y="349.1" width="0.9" height="11.5"/></g>
<path d="M71.0,278.2 L72.8,262.0 L74.5,246.0 L76.2,214.0 L76.7,203.6 L78.5,188.0 L81.0,170.0 L83.1,153.0 L84.6,146.3 L86.8,120.5 L89.8,94.6 L91.0,113.8 L92.7,116.0 L94.2,119.0 L95.7,125.7 L97.9,131.1 L98.9,131.6 L100.1,116.0 L101.6,115.8 L103.8,119.8 L105.3,120.8 L108.2,133.8 L110.5,144.1 L111.9,146.3 L112.7,148.0 L113.3,182.7 L117.8,210.0 L120.0,223.6 L121.8,221.3 L122.7,226.4 L129.0,253.6 L132.7,270.0 L136.4,291.8 L141.8,309.0 L143.6,312.7 L145.5,312.7 L149.0,324.5 L153.6,333.6 L155.5,332.4 L159.0,335.5 L162.0,335.0 L171.5,345.8 L177.7,343.4 L181.5,341.5 L183.4,340.0 L186.3,335.7 L188.6,332.4 L190.2,328.2 L194.8,321.4 L197.0,318.5 L199.3,314.0 L202.2,307.7 L207.3,303.8 L210.1,302.6 L211.2,303.2 L213.5,300.3 L215.8,301.5 L218.6,298.6 L224.9,295.2 L228.4,298.0 L232.4,301.9 L234.1,302.5 L236.9,303.6 L242.0,309.9 L247.2,312.7 L249.1,311.6 L252.3,316.1 L256.2,320.1 L258.5,323.5 L263.6,329.8 L265.3,330.0 L268.2,329.8 L272.3,332.2 L274.0,331.6 L276.8,333.3 L280.8,335.0 L284.8,339.0 L288.2,340.5 L291.6,340.1 L293.3,339.5 L296.7,342.4 L299.5,339.0 L301.2,340.5 L304.7,339.0 L305.8,339.5 L308.1,343.5 L309.8,343.0 L312.0,343.9 L315.5,343.0 L318.9,341.2 L320.0,340.0 L323.8,338.8 L327.5,336.2 L328.8,334.4 L330.6,334.4 L333.8,330.0 L336.2,327.5 L338.1,323.8 L340.6,321.9 L346.9,315.0 L347.5,308.8 L348.5,302.5 L350.6,296.2 L353.4,288.9 L355.2,287.5 L356.1,290.9 L357.5,288.2 L359.3,286.8 L360.9,281.4 L363.6,271.8 L366.4,268.8 L369.8,267.7 L372.5,270.5 L375.9,273.9 L378.6,275.9 L382.7,271.2 L384.8,265.0 L388.2,250.7 L390.2,249.3 L393.7,245.9 L395.7,247.3 L398.4,242.1 L401.8,250.0 L403.9,246.6 L406.6,249.3 L408.6,248.7 L411.4,249.3 L415.5,261.6 L416.1,261.6 L419.6,247.3 L422.3,235.0 L425.0,217.3 L427.7,221.4 L430.7,213.9 L433.5,224.1 L435.2,226.8 L440.0,244.6 L443.1,255.0 L446.1,265.2 L449.8,274.4 L453.3,278.5 L458.4,288.7 L461.5,291.8 L466.6,300.0 L474.8,320.4 L478.9,325.6 L481.9,331.7 L486.0,333.7 L489.1,334.8 L494.2,339.9 L497.7,325.6 L501.2,326.3 L502.7,327.5 L504.1,328.0 L506.0,343.4 L507.0,343.8 L509.4,346.7 L512.3,342.4 L515.7,345.3 L517.6,341.4 L520.5,341.9 L523.8,338.6 L525.8,337.3 L528.2,336.3 L531.5,334.7 L534.4,337.3 L536.3,336.6 L539.2,335.2 L542.1,331.3 L545.5,329.4 L547.4,329.9 L549.8,329.4 L552.2,331.3" fill="none" stroke="#7883a4" stroke-width="1.35" stroke-linejoin="round"/>
<line x1="72.3" y1="408.2" x2="97.6" y2="408.2" stroke="#6b82c4" stroke-width="1.1"/>
<rect x="233.5" y="397.3" width="10.7" height="10" fill="#fdeee2"/>
<rect x="345" y="397.3" width="10" height="10" fill="#f5c08a"/>
<rect x="5.75" y="5.75" width="608.5" height="423.9" fill="none" stroke="#000" stroke-width="3.5"/>
</svg>
<div id="frame"></div>
<div id="sel"><span class="t">US</span><div class="tri"></div></div>
<div id="dn">Data Notes</div>
<svg class="abs" style="left:234px;top:18px" width="9" height="11" viewBox="0 0 9 11"><path d="M2,1 L6.5,5.5 L2,10" fill="none" stroke="#9cacc6" stroke-width="1.3"/></svg>
<div class="btn" style="left:73px;width:87px;background:#fff;"><span style="position:absolute;left:10.5px;top:0">Positivity</span><div style="position:absolute;left:71.8px;top:7.2px;width:0;height:0;border-left:4.5px solid transparent;border-right:4.5px solid transparent;border-top:9.4px solid #585858;"></div></div>
<div class="btn" style="left:162px;width:68px;background:#f2f5fc;text-align:center;">Full Series</div>
<div class="btn" style="left:232px;width:80px;background:#fff;text-align:center;font-size:10.3px;">90 Day View</div>
<div class="lab r" style="top:87px">2.5M</div>
<div class="lab r" style="top:140.7px">2M</div>
<div class="lab r" style="top:194.3px">1.5M</div>
<div class="lab r" style="top:248px">1M</div>
<div class="lab r" style="top:301.6px">0.5M</div>
<div class="lab" style="left:61px;top:355px">0</div>
<div class="lab c" style="left:124.3px;top:363.5px">May 2020</div>
<div class="lab c" style="left:197.9px;top:363.5px">Jul 2020</div>
<div class="lab c" style="left:274.0px;top:363.5px">Sep 2020</div>
<div class="lab c" style="left:347.9px;top:363.5px">Nov 2020</div>
<div class="lab c" style="left:422.1px;top:363.5px">Jan 2021</div>
<div class="lab c" style="left:493.7px;top:363.5px">Mar 2021</div>
<div class="lab" style="left:554px;top:125.8px;font-size:10.5px">20%</div>
<div class="lab" style="left:554px;top:192.3px;font-size:10.5px">15%</div>
<div class="lab" style="left:554px;top:259.3px;font-size:10.5px">10%</div>
<div class="lab" style="left:554px;top:326.8px;font-size:10.5px">5%</div>
<div class="lab" style="left:22.5px;top:220px;font-size:11.7px;color:#555;transform:translate(-50%,-50%) rotate(-90deg);">Daily tests</div>
<div class="lab" style="left:593.5px;top:220.5px;font-size:11.7px;color:#555;transform:translate(-50%,-50%) rotate(-90deg);">Positivity Rate</div>
<div class="leg" style="left:102.8px;top:396.8px">Percentage positive tests<br>(7-day moving average)</div>
<div class="leg" style="left:256.5px;top:396.8px">Daily total tests</div>
<div class="leg" style="left:367.3px;top:396.8px">Daily positive tests</div>
</body></html>
